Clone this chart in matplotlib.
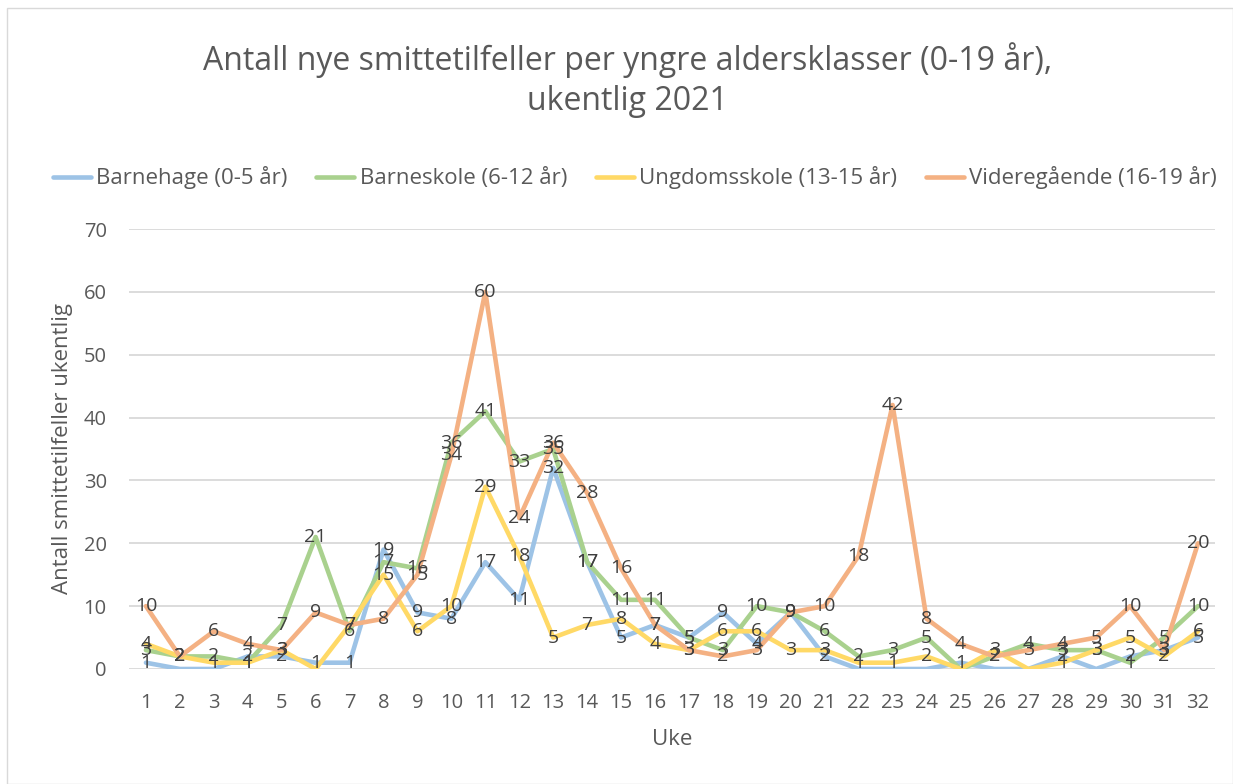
import matplotlib.pyplot as plt
from matplotlib.patches import Rectangle

plt.rcParams['font.family'] = ['Open Sans', 'DejaVu Sans']

weeks = list(range(1, 33))
barnehage = [1, 0, 0, 2, 2, 1, 1, 19, 9, 8, 17, 11, 32, 17, 5, 7, 5, 9, 4, 9, 2, 0, 0, 0, 1, 0, 0, 2, 0, 2, 3, 5]
barneskole = [3, 2, 2, 1, 7, 21, 6, 17, 16, 36, 41, 33, 35, 17, 11, 11, 5, 3, 10, 9, 6, 2, 3, 5, 0, 2, 4, 3, 3, 1, 5, 10]
ungdomsskole = [4, 2, 1, 1, 3, 0, 7, 15, 6, 10, 29, 18, 5, 7, 8, 4, 3, 6, 6, 3, 3, 1, 1, 2, 0, 3, 0, 1, 3, 5, 2, 6]
videregaende = [10, 2, 6, 4, 3, 9, 7, 8, 15, 34, 60, 24, 36, 28, 16, 7, 3, 2, 3, 9, 10, 18, 42, 8, 4, 2, 3, 4, 5, 10, 3, 20]

series = [
    ("Barnehage (0-5 år)", barnehage, '#9DC3E6'),
    ("Barneskole (6-12 år)", barneskole, '#A9D18E'),
    ("Ungdomsskole (13-15 år)", ungdomsskole, '#FFD966'),
    ("Videregående (16-19 år)", videregaende, '#F4B183'),
]

fig = plt.figure(figsize=(12.33, 7.84), dpi=100)
ax = fig.add_axes([0.1046, 0.1467, 0.8808, 0.5612])

for name, vals, col in series:
    ax.plot(weeks, vals, color=col, linewidth=3.3, label=name, solid_capstyle='round', zorder=2)

# datalabels, nullverdier vises ikke
for name, vals, col in series:
    for w, v in zip(weeks, vals):
        if v == 0:
            continue
        ax.text(w, v, str(v), ha='center', va='center', fontsize=14, color='#404040', zorder=3)

ax.set_xlim(0.5, 32.5)
ax.set_ylim(0, 70)
ax.set_xticks(weeks)
ax.set_yticks(range(0, 71, 10))
ax.tick_params(axis='both', length=0, labelsize=14.5, colors='#595959')
ax.tick_params(axis='x', pad=17)
ax.tick_params(axis='y', pad=16)
ax.grid(axis='y', color='#D9D9D9', linewidth=1.3, zorder=0)
ax.set_axisbelow(True)
for s in ax.spines.values():
    s.set_visible(False)

ax.set_xlabel('Uke', fontsize=16, color='#595959', labelpad=12)
ax.set_ylabel('Antall smittetilfeller ukentlig', fontsize=16, color='#595959', labelpad=8)

fig.text(0.509, 0.898, 'Antall nye smittetilfeller per yngre aldersklasser (0-19 år),\nukentlig 2021',
         ha='center', va='center', fontsize=23, color='#595959', linespacing=1.25)

fig.legend(loc='center', bbox_to_anchor=(0.515, 0.773), ncol=4, frameon=False, fontsize=16,
           handlelength=1.7, handletextpad=0.25, columnspacing=1.3, labelcolor='#595959')

fig.patches.append(Rectangle((0.006, 0.0), 0.994, 0.99, transform=fig.transFigure,
                             fill=False, edgecolor='#D9D9D9', linewidth=1))

plt.savefig('out.png')
